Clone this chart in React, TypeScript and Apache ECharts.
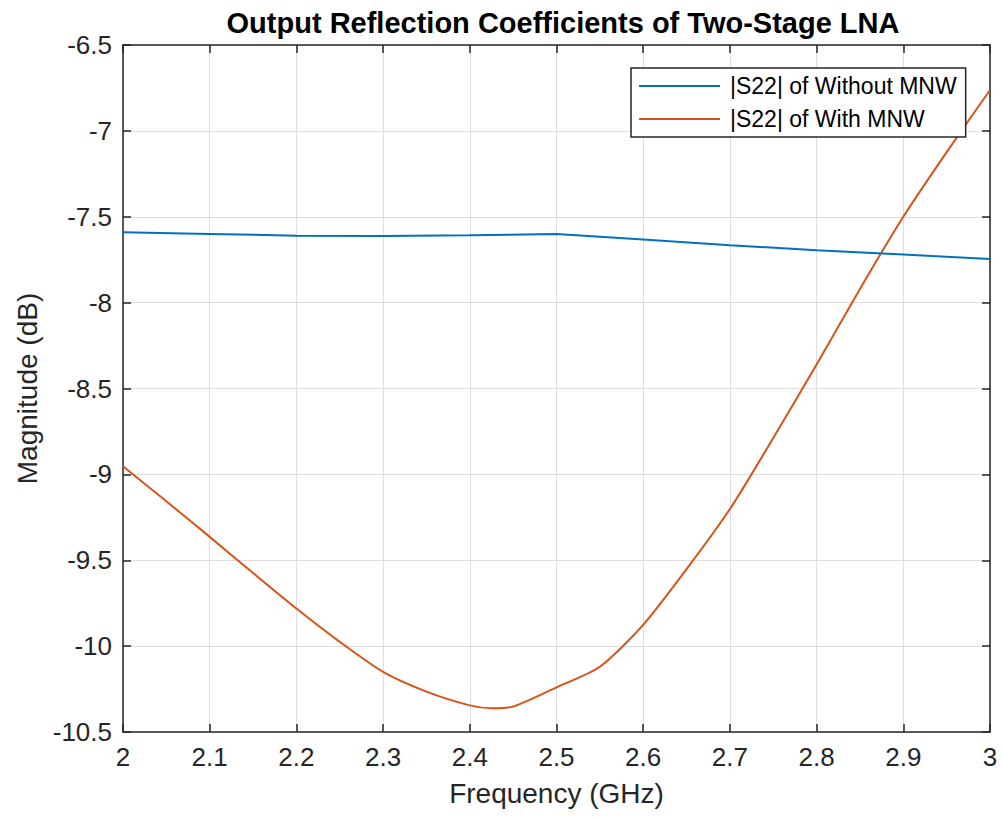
import React, { useEffect, useRef } from "react";
import * as echarts from "echarts";

const TITLE = "Output Reflection Coefficients of Two-Stage LNA";
const X_NAME = "Frequency (GHz)";
const Y_NAME = "Magnitude (dB)";

const seriesNames = ["|S22| of Without MNW", "|S22| of With MNW"];

const freqWithout = [2.0, 2.1, 2.2, 2.3, 2.4, 2.5, 2.6, 2.7, 2.8, 2.9, 3.0];
const s22Without = [-7.59, -7.6, -7.61, -7.612, -7.608, -7.6, -7.633, -7.666, -7.695, -7.72, -7.746];

const freqWith = [
  2.0, 2.05, 2.1, 2.15, 2.2, 2.25, 2.3, 2.35, 2.4, 2.425, 2.45, 2.5, 2.55, 2.6, 2.65, 2.7, 2.75, 2.8,
  2.85, 2.9, 2.95, 3.0,
];
const s22With = [
  -8.953, -9.157, -9.364, -9.574, -9.781, -9.975, -10.15, -10.265, -10.345, -10.362, -10.352,
  -10.24, -10.12, -9.876, -9.552, -9.202, -8.788, -8.36, -7.92, -7.5, -7.124, -6.762,
];

const X_MIN = 2;
const X_MAX = 3;
const X_STEP = 0.1;
const Y_MIN = -10.5;
const Y_MAX = -6.5;
const Y_STEP = 0.5;

const colors = ["#0072BD", "#D95319"];

export default function App() {
  const ref = useRef<HTMLDivElement>(null);
  useEffect(() => {
    if (!ref.current) return;
    const chart = echarts.init(ref.current, undefined, { renderer: "svg" });
    const font = "Liberation Sans, Arial, Helvetica, sans-serif";
    const axisColor = "#262626";
    const fmt = (v: number) => String(+v.toFixed(2));
    const baseX = {
      type: "value",
      min: X_MIN,
      max: X_MAX,
      interval: X_STEP,
      axisLine: { show: true, onZero: false, lineStyle: { color: axisColor, width: 1.5 } },
      axisTick: { show: true, inside: true, length: 8, lineStyle: { color: axisColor, width: 1.5 } },
      splitLine: { show: false },
    };
    const baseY = {
      type: "value",
      min: Y_MIN,
      max: Y_MAX,
      interval: Y_STEP,
      axisLine: { show: true, onZero: false, lineStyle: { color: axisColor, width: 1.5 } },
      axisTick: { show: true, inside: true, length: 8, lineStyle: { color: axisColor, width: 1.5 } },
      splitLine: { show: false },
    };
    chart.setOption({
      animation: false,
      backgroundColor: "#ffffff",
      textStyle: { fontFamily: font },
      title: {
        text: TITLE,
        left: 558,
        textAlign: "center",
        top: 3,
        textStyle: { fontFamily: font, fontSize: 29, fontWeight: "bold", color: "#000000" },
      },
      grid: { left: 123, top: 45, width: 867, height: 687, containLabel: false },
      legend: {
        orient: "vertical",
        left: 631,
        top: 68,
        data: seriesNames,
        icon: "rect",
        itemWidth: 81,
        itemHeight: 2,
        itemGap: 7,
        padding: [5, 9, 5, 8],
        borderColor: axisColor,
        borderWidth: 1.5,
        borderRadius: 0,
        backgroundColor: "#ffffff",
        textStyle: { fontFamily: font, fontSize: 23, color: "#000000", lineHeight: 26, padding: [0, 0, 0, 5] },
      },
      xAxis: [
        {
          ...baseX,
          position: "bottom",
          name: X_NAME,
          nameLocation: "middle",
          nameGap: 47,
          nameTextStyle: { fontFamily: font, fontSize: 28, color: axisColor },
          axisLabel: { show: true, margin: 12, fontSize: 26, color: axisColor, fontFamily: font, formatter: fmt },
          splitLine: { show: true, lineStyle: { color: "#dedede", width: 1 } },
        },
        { ...baseX, position: "top", axisLabel: { show: false } },
      ],
      yAxis: [
        {
          ...baseY,
          position: "left",
          name: Y_NAME,
          nameLocation: "middle",
          nameGap: 82,
          nameTextStyle: { fontFamily: font, fontSize: 28, color: axisColor },
          axisLabel: { show: true, margin: 11, fontSize: 26, color: axisColor, fontFamily: font, formatter: fmt },
          splitLine: { show: true, lineStyle: { color: "#dedede", width: 1 } },
        },
        { ...baseY, position: "right", axisLabel: { show: false } },
      ],
      series: [
        {
          name: seriesNames[0],
          type: "line",
          data: freqWithout.map((f, i) => [f, s22Without[i]]),
          showSymbol: false,
          symbol: "none",
          lineStyle: { color: colors[0], width: 2 },
          itemStyle: { color: colors[0] },
          z: 3,
        },
        {
          name: seriesNames[1],
          type: "line",
          data: freqWith.map((f, i) => [f, s22With[i]]),
          showSymbol: false,
          symbol: "none",
          smooth: 0.25,
          lineStyle: { color: colors[1], width: 2 },
          itemStyle: { color: colors[1] },
          z: 2,
        },
      ],
    });
    return () => chart.dispose();
  }, []);
  return (
    <div
      ref={ref}
      style={{ position: "absolute", left: 0, top: 0, width: 1003, height: 819, background: "#fff" }}
    />
  );
}
